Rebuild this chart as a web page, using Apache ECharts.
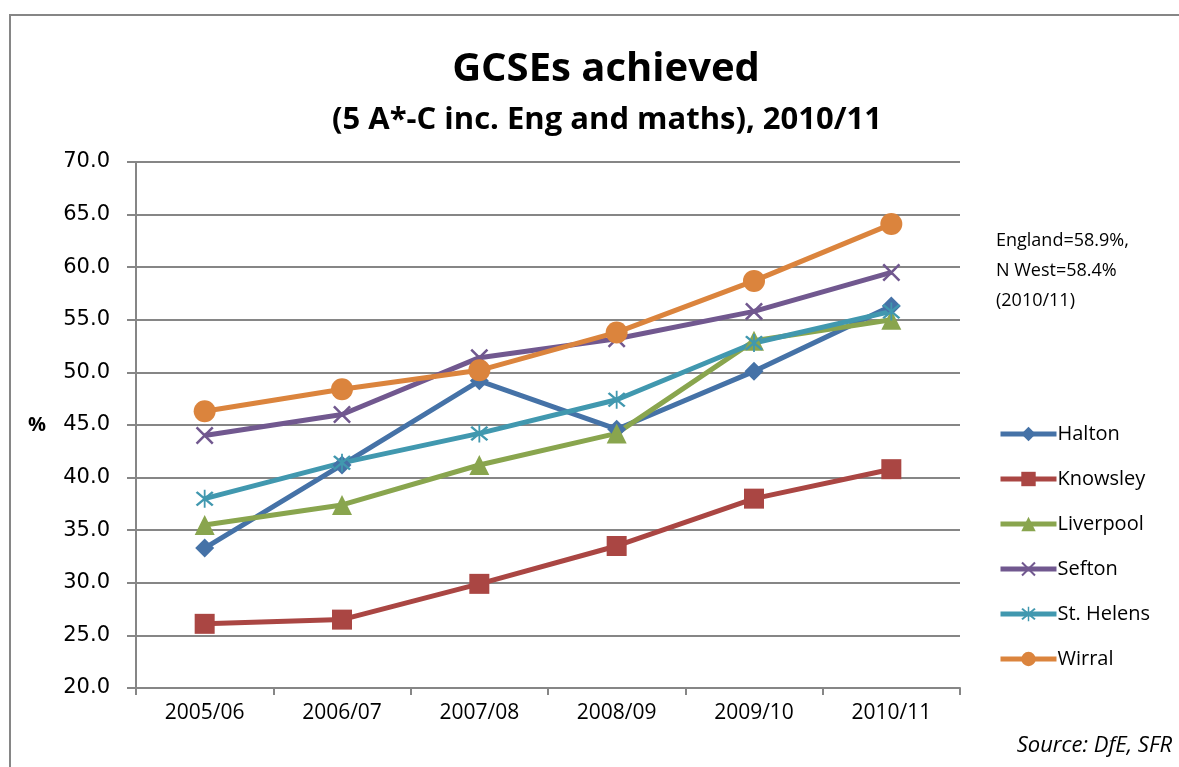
<!DOCTYPE html>
<html lang="en">

<head>
	<meta charset="UTF-8">
	<title>GCSEs achieved</title>
	<script src="https://cdn.jsdelivr.net/npm/echarts@6/dist/echarts.min.js"></script>
	<style>
		html, body { margin: 0; padding: 0; background: #fff; }
		#chart { width: 1179px; height: 767px; }
	</style>
</head>

<body>
	<div id="chart"></div>
	<script>
		// school years (x axis)
		var years = ['2005/06', '2006/07', '2007/08', '2008/09', '2009/10', '2010/11']

		// % of pupils with 5 A*-C inc. English and maths
		var halton = [33.3, 41.2, 49.2, 44.6, 50.1, 56.3]
		var knowsley = [26.1, 26.5, 29.9, 33.5, 38.0, 40.8]
		var liverpool = [35.5, 37.4, 41.2, 44.2, 53.0, 55.0]
		var sefton = [44.0, 46.0, 51.4, 53.2, 55.8, 59.5]
		var stHelens = [38.0, 41.4, 44.2, 47.4, 52.8, 55.8]
		var wirral = [46.3, 48.4, 50.2, 53.8, 58.7, 64.1]

		var noteLines = ['England=58.9%,', 'N West=58.4%', '(2010/11)']

		// excel style markers that echarts does not have
		var crossPath = 'path://M0,1L1,0L10,9L9,10Z M9,0L10,1L1,10L0,9Z'
		var starPath = 'path://M0,1L1,0L10,9L9,10Z M9,0L10,1L1,10L0,9Z M4.5,-1L5.5,-1L5.5,11L4.5,11Z'

		var font = '"Open Sans", "Noto Sans", sans-serif'

		function line(name, data, color, symbol, size) {
			return {
				name: name,
				type: 'line',
				data: data,
				symbol: symbol,
				symbolSize: size,
				showSymbol: true,
				lineStyle: { color: color, width: 5 },
				itemStyle: { color: color },
				emphasis: { disabled: true },
				z: 3
			}
		}

		var myChart = echarts.init(document.getElementById('chart'))

		var option = {
			animation: false,
			title: [
				{
					text: 'GCSEs achieved',
					left: 601, top: 45, textAlign: 'center',
					textStyle: { fontFamily: font, fontWeight: 'bold', fontSize: 40, color: '#000' }
				},
				{
					text: '(5 A*-C inc. Eng and maths), 2010/11',
					left: 602, top: 100, textAlign: 'center',
					textStyle: { fontFamily: font, fontWeight: 'bold', fontSize: 31, color: '#000' }
				}
			],
			legend: {
				orient: 'vertical',
				left: 993, top: 419,
				itemWidth: 56, itemHeight: 18, itemGap: 25,
				lineStyle: { width: 5 },
				textStyle: { fontFamily: font, fontSize: 20, color: '#000', padding: [0, 0, 0, -4] },
				data: ['Halton', 'Knowsley', 'Liverpool', 'Sefton', 'St. Helens', 'Wirral']
			},
			grid: { left: 136, top: 162, right: 219, bottom: 79 },
			xAxis: {
				type: 'category',
				data: years,
				boundaryGap: true,
				axisLine: { lineStyle: { color: '#868686', width: 2 } },
				axisTick: { show: true, length: 7, lineStyle: { color: '#868686', width: 2 } },
				axisLabel: { fontFamily: font, fontSize: 21, color: '#000', margin: 15 }
			},
			yAxis: {
				type: 'value',
				min: 20, max: 70, interval: 5,
				name: '%',
				nameLocation: 'middle',
				nameRotate: 0,
				nameGap: 90,
				nameTextStyle: { fontFamily: font, fontWeight: 'bold', fontSize: 20, color: '#000', padding: [12, 0, 0, 0] },
				axisLine: { show: true, lineStyle: { color: '#868686', width: 2 } },
				axisTick: { show: true, length: 9, lineStyle: { color: '#868686', width: 2 } },
				axisLabel: {
					fontFamily: '"DejaVu Sans", sans-serif', fontSize: 21, color: '#000', margin: 26,
					formatter: function (v) { return v.toFixed(1) }
				},
				splitLine: { lineStyle: { color: '#868686', width: 2 } }
			},
			graphic: [
				{
					type: 'rect',
					shape: { x: 10, y: 15, width: 1300, height: 900 },
					style: { fill: 'none', stroke: '#868686', lineWidth: 2 },
					silent: true
				},
				{
					type: 'text',
					left: 996, top: 226,
					style: {
						text: noteLines.join('\n'),
						font: '18px ' + font,
						lineHeight: 30,
						fill: '#000'
					}
				},
				{
					type: 'text',
					right: 7, top: 735,
					style: {
						text: 'Source: DfE, SFR',
						font: 'italic 22px ' + font,
						fill: '#000'
					}
				}
			],
			series: [
				line('Halton', halton, '#4572A7', 'diamond', 19),
				line('Knowsley', knowsley, '#AA4643', 'rect', 20),
				line('Liverpool', liverpool, '#89A54E', 'triangle', 20),
				line('Sefton', sefton, '#71588F', crossPath, 18),
				line('St. Helens', stHelens, '#4198AF', starPath, 18),
				line('Wirral', wirral, '#DB843D', 'circle', 22)
			]
		}
		myChart.setOption(option)
	</script>
</body>

</html>
